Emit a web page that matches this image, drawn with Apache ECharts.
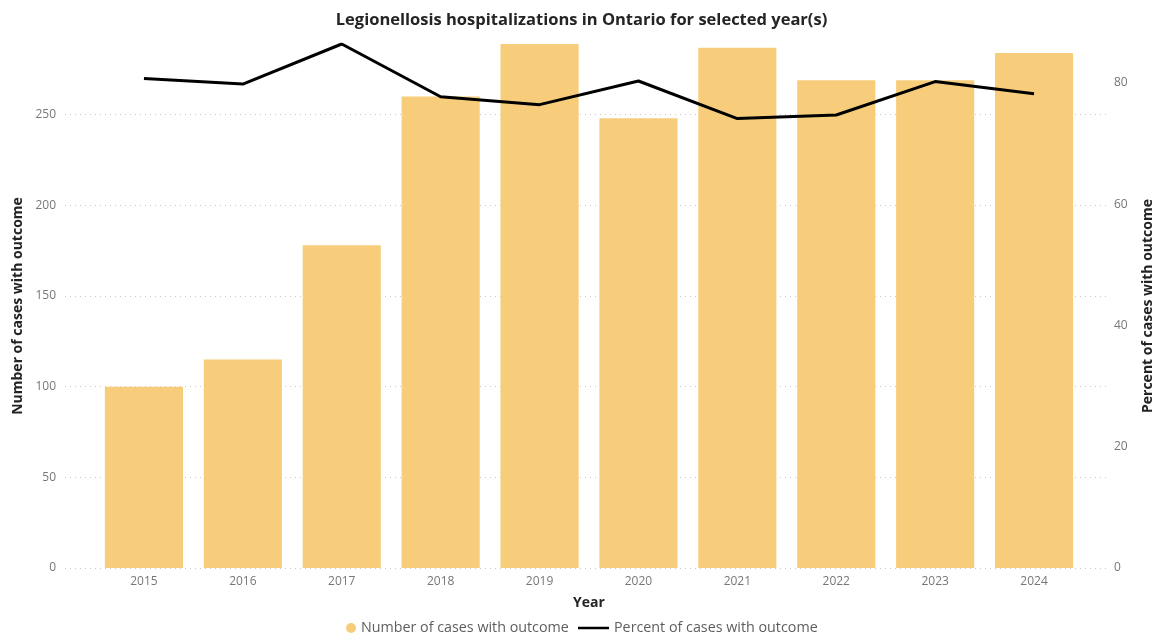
<!DOCTYPE html>
<html><head><meta charset="utf-8">
<script src="https://cdn.jsdelivr.net/npm/echarts@6/dist/echarts.min.js"></script>
<style>html,body{margin:0;padding:0;background:#fff}#c{width:1163px;height:640px}</style>
</head><body><div id="c"></div>
<script>
const years = ['2015','2016','2017','2018','2019','2020','2021','2022','2023','2024'];
const cases = [100,115,178,260,289,248,287,269,269,284];
const percent = [80.7,79.8,86.4,77.7,76.4,80.3,74.1,74.7,80.2,78.2];
const leftMax = Math.max(...cases);
const rightMax = Math.max(...percent);

const FONT = '"Segoe UI","Open Sans","Noto Sans",sans-serif';
const chart = echarts.init(document.getElementById('c'), null, {renderer:'canvas'});
chart.setOption({
  animation:false,
  textStyle:{fontFamily:FONT},
  title:{text:'Legionellosis hospitalizations in Ontario for selected year(s)', left:'center', top:7,
    textStyle:{fontSize:16.5, fontWeight:'bold', color:'#252423', fontFamily:FONT}},
  legend:[
    {bottom:0, left:341, itemWidth:10, itemHeight:10, itemGap:0,
     textStyle:{fontSize:14.3, color:'#605E5C', fontFamily:FONT},
     data:[{name:'Number of cases with outcome', icon:'circle', itemStyle:{color:'#F7CD7B'}}]},
    {bottom:0, left:573, itemWidth:31, itemHeight:2.5, itemGap:0,
     textStyle:{fontSize:14.3, color:'#605E5C', fontFamily:FONT},
     data:[{name:'Percent of cases with outcome', icon:'rect', itemStyle:{color:'#000'}}]}
  ],
  grid:[
    {left:65, right:48, top:44, bottom:72},
    {left:94.5, right:79.5, top:44, bottom:72}
  ],
  xAxis:[
    {type:'category', gridIndex:0, data:years, show:false},
    {type:'category', gridIndex:1, data:years, boundaryGap:true,
     axisLine:{show:false}, axisTick:{show:false},
     axisLabel:{color:'#777', fontSize:12, margin:8, fontFamily:FONT},
     name:'Year', nameLocation:'middle', nameGap:28,
     nameTextStyle:{fontSize:14, fontWeight:'bold', color:'#252423', fontFamily:FONT}}
  ],
  yAxis:[
    {type:'value', gridIndex:0, min:0, max:leftMax, interval:50,
     axisLine:{show:false}, axisTick:{show:false},
     axisLabel:{color:'#777', fontSize:12, margin:9, showMaxLabel:false, fontFamily:FONT},
     splitLine:{show:true, showMaxLine:false, lineStyle:{type:[1,4], color:'#C8C8C8', width:1}},
     name:'Number of cases with outcome', nameLocation:'middle', nameGap:40, nameRotate:90,
     nameTextStyle:{fontSize:14, fontWeight:'bold', color:'#252423', fontFamily:FONT}},
    {type:'value', gridIndex:0, position:'right', min:0, max:rightMax, interval:20,
     axisLine:{show:false}, axisTick:{show:false},
     axisLabel:{color:'#777', fontSize:12, margin:8, showMaxLabel:false, fontFamily:FONT},
     splitLine:{show:false},
     name:'Percent of cases with outcome', nameLocation:'middle', nameGap:35, nameRotate:90,
     nameTextStyle:{fontSize:14, fontWeight:'bold', color:'#252423', fontFamily:FONT}},
    {type:'value', gridIndex:1, min:0, max:leftMax, show:false},
    {type:'value', gridIndex:1, min:0, max:rightMax, show:false}
  ],
  series:[
    {name:'Number of cases with outcome', type:'bar', xAxisIndex:1, yAxisIndex:2,
     data:cases, barCategoryGap:'21%', itemStyle:{color:'#F7CD7B'}},
    {name:'Percent of cases with outcome', type:'line', xAxisIndex:1, yAxisIndex:3,
     data:percent, symbol:'none', lineStyle:{color:'#000', width:3}, itemStyle:{color:'#000'}}
  ]
});
</script></body></html>
